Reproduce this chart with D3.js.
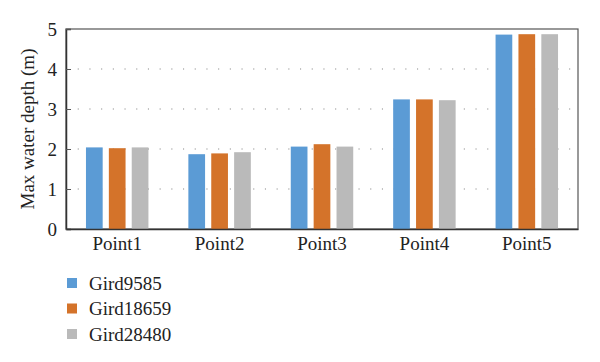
<!DOCTYPE html>
<html>
<head>
<meta charset="utf-8">
<script src="https://d3js.org/d3.v7.min.js"></script>
<style>
  body { margin: 0; background: #fff; }
  svg text { font-family: "Liberation Serif", "DejaVu Serif", serif; fill: #222; }
</style>
</head>
<body>
<div id="chart"></div>
<script>
// chart values
const points = ["Point1", "Point2", "Point3", "Point4", "Point5"];
const seriesNames = ["Gird9585", "Gird18659", "Gird28480"];
const gird9585 = [2.04, 1.87, 2.06, 3.24, 4.86];
const gird18659 = [2.02, 1.89, 2.12, 3.24, 4.87];
const gird28480 = [2.04, 1.92, 2.06, 3.22, 4.87];
const yTicks = [0, 1, 2, 3, 4, 5];
const colors = ["#5b9bd5", "#d4732a", "#bababa"];

const seriesValues = [gird9585, gird18659, gird28480];

const width = 600, height = 362;
const margin = {top: 29, right: 22, bottom: 133, left: 66};
const plotW = width - margin.left - margin.right;
const plotH = height - margin.top - margin.bottom;

const svg = d3.select("#chart").append("svg")
    .attr("width", width)
    .attr("height", height);

const g = svg.append("g")
    .attr("transform", "translate(" + margin.left + "," + margin.top + ")");

const x = d3.scaleBand()
    .domain(points)
    .range([0, plotW])
    .paddingInner(0.39)
    .paddingOuter(0.195);

const xInner = d3.scaleBand()
    .domain(seriesNames)
    .range([0, x.bandwidth()])
    .paddingInner(0.27);

const y = d3.scaleLinear()
    .domain([0, 5])
    .range([plotH, 0]);

// dotted gridlines
g.append("g")
    .selectAll("line")
    .data(yTicks.filter(d => d > 0 && d < 5))
    .enter()
    .append("line")
    .attr("x1", 0)
    .attr("x2", plotW)
    .attr("y1", d => y(d))
    .attr("y2", d => y(d))
    .attr("stroke", "#888")
    .attr("stroke-width", 1.1)
    .attr("stroke-dasharray", "1.1,10.6");

// frame (top and right)
g.append("rect")
    .attr("x", 0)
    .attr("y", 0)
    .attr("width", plotW)
    .attr("height", plotH)
    .attr("fill", "none")
    .attr("stroke", "#555")
    .attr("stroke-width", 1.2);

// bars
const groups = g.append("g")
    .selectAll("g")
    .data(points)
    .enter()
    .append("g")
    .attr("transform", d => "translate(" + x(d) + ",0)");

groups.selectAll("rect")
    .data((p, i) => seriesNames.map((s, j) => ({series: s, j: j, value: seriesValues[j][i]})))
    .enter()
    .append("rect")
    .attr("x", d => xInner(d.series))
    .attr("y", d => y(d.value))
    .attr("width", xInner.bandwidth())
    .attr("height", d => plotH - y(d.value))
    .attr("fill", d => colors[d.j]);

// axes
const yAxis = g.append("g")
    .call(d3.axisLeft(y).tickValues(yTicks).tickSize(-5).tickPadding(9).tickFormat(d3.format("d")));
yAxis.select(".domain").attr("stroke", "#333").attr("stroke-width", 1.5);
yAxis.selectAll(".tick line").attr("stroke", "#555");
yAxis.selectAll("text").style("font-size", "19px").attr("fill", "#222");

const xAxis = g.append("g")
    .attr("transform", "translate(0," + plotH + ")")
    .call(d3.axisBottom(x).tickSize(0).tickPadding(8));
xAxis.select(".domain").attr("stroke", "#333").attr("stroke-width", 1.5);
xAxis.selectAll("text").style("font-size", "19px").attr("fill", "#222");

// y axis title
svg.append("text")
    .attr("transform", "translate(34," + (margin.top + plotH / 2) + ") rotate(-90)")
    .attr("text-anchor", "middle")
    .style("font-size", "19px")
    .text("Max water depth (m)");

// legend
const legend = svg.append("g")
    .attr("transform", "translate(67,283)");

const items = legend.selectAll("g")
    .data(seriesNames)
    .enter()
    .append("g")
    .attr("transform", (d, i) => "translate(0," + (i * 25.5) + ")");

items.append("rect")
    .attr("x", 0)
    .attr("y", -5)
    .attr("width", 10)
    .attr("height", 10)
    .attr("fill", (d, i) => colors[i]);

items.append("text")
    .attr("x", 22)
    .attr("dy", "0.35em")
    .style("font-size", "19px")
    .text(d => d);
</script>
</body>
</html>
